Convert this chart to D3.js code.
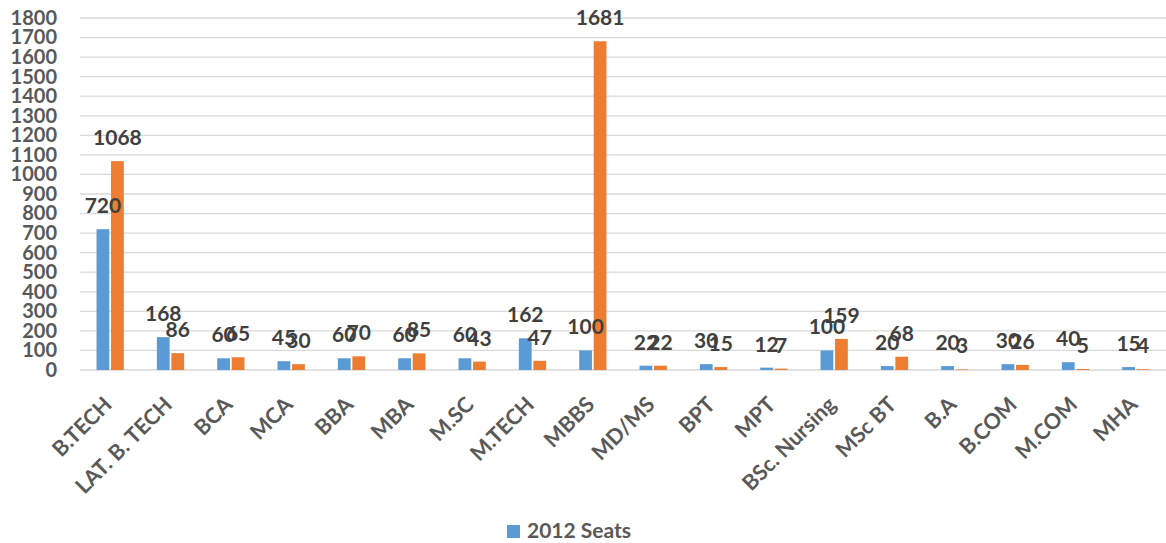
<!DOCTYPE html>
<html>
<head>
<meta charset="utf-8">
<script src="https://cdn.jsdelivr.net/npm/d3@7"></script>
<style>
  body { margin: 0; background: #fff; }
  svg text { font-family: Lato, "Open Sans", sans-serif; font-weight: bold; }
</style>
</head>
<body>
<div id="chart"></div>
<script>
// Datos
const courses = ["B.TECH", "LAT. B. TECH", "BCA", "MCA", "BBA", "MBA", "M.SC", "M.TECH", "MBBS",
    "MD/MS", "BPT", "MPT", "BSc. Nursing", "MSc BT", "B.A", "B.COM", "M.COM", "MHA"];
const seats2012 = [720, 168, 60, 45, 60, 60, 60, 162, 100, 22, 30, 12, 100, 20, 20, 30, 40, 15];
const seatsOther = [1068, 86, 65, 30, 70, 85, 43, 47, 1681, 22, 15, 7, 159, 68, 3, 26, 5, 4];
const seriesNames = ["2012 Seats", "Seats"];
const colors = ["#5B9BD5", "#ED7D31"];
const yTicks = d3.range(0, 1900, 100);

const width = 1166, height = 543;
const margin = { top: 18, right: 0, bottom: 172, left: 80 };

const rows = courses.map((c, i) => ({ course: c, values: [seats2012[i], seatsOther[i]] }));

const svg = d3.select("#chart").append("svg")
    .attr("width", width)
    .attr("height", height);

const x0 = d3.scaleBand()
    .domain(courses)
    .range([margin.left, width - margin.right])
    .paddingInner(0.49)
    .paddingOuter(0.245);

const x1 = d3.scaleBand()
    .domain([0, 1])
    .range([0, x0.bandwidth()])
    .padding(0.12);

const y = d3.scaleLinear()
    .domain([0, 1800])
    .range([height - margin.bottom - 1, margin.top]);

// Líneas de cuadrícula
svg.append("g")
    .selectAll("line")
    .data(yTicks)
    .join("line")
    .attr("x1", margin.left)
    .attr("x2", width)
    .attr("y1", d => y(d))
    .attr("y2", d => y(d))
    .attr("stroke", "#d9d9d9")
    .attr("stroke-width", 1.3);

// Eje Y
const yAxis = svg.append("g")
    .attr("transform", `translate(${margin.left},0)`)
    .call(d3.axisLeft(y).tickValues(yTicks).tickFormat(d3.format("d")).tickSize(0).tickPadding(23));
yAxis.select(".domain").remove();
yAxis.selectAll("text")
    .style("font-size", "20px")
    .attr("fill", "#595959");

// Barras
const groups = svg.append("g")
    .selectAll("g")
    .data(rows)
    .join("g")
    .attr("transform", d => `translate(${x0(d.course)},0)`);

groups.selectAll("rect")
    .data(d => d.values.map((v, k) => ({ k, v })))
    .join("rect")
    .attr("x", d => x1(d.k))
    .attr("width", x1.bandwidth())
    .attr("y", d => y(d.v))
    .attr("height", d => y(0) - y(d.v))
    .attr("fill", d => colors[d.k]);

// Etiquetas de datos
[0, 1].forEach(k => {
    svg.append("g")
        .selectAll("text")
        .data(rows)
        .join("text")
        .attr("x", d => x0(d.course) + x1(k) + x1.bandwidth() / 2)
        .attr("y", d => y(d.values[k]) - 16)
        .attr("text-anchor", "middle")
        .style("font-size", "21px")
        .attr("fill", "#404040")
        .text(d => d.values[k]);
});

// Etiquetas del eje X
svg.append("g")
    .selectAll("text")
    .data(courses)
    .join("text")
    .attr("transform", d => `translate(${x0(d) + x0.bandwidth() / 2 + 3},${y(0) + 36}) rotate(-45)`)
    .attr("text-anchor", "end")
    .style("font-size", "21.5px")
    .attr("fill", "#595959")
    .text(d => d);

// Leyenda
const legend = svg.append("g").attr("transform", "translate(507,525)");
legend.append("rect")
    .attr("width", 13)
    .attr("height", 13)
    .attr("fill", colors[0]);
legend.append("text")
    .attr("x", 20)
    .attr("y", 13)
    .style("font-size", "21px")
    .attr("fill", "#595959")
    .text(seriesNames[0]);
</script>
</body>
</html>
